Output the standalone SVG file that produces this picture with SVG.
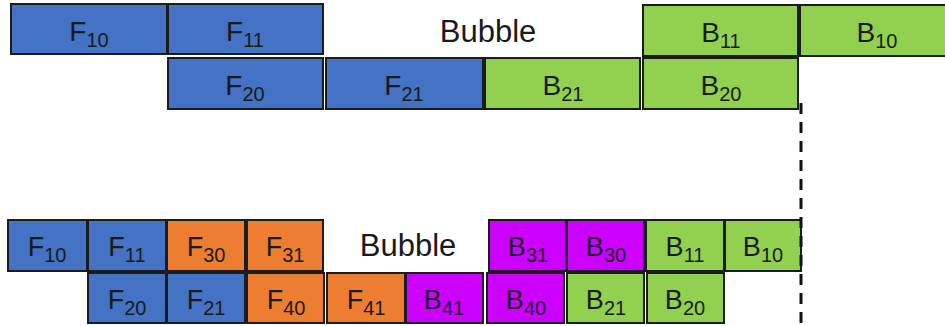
<svg xmlns="http://www.w3.org/2000/svg" width="945" height="326" viewBox="0 0 945 326">
<style>
rect{stroke:#1c1c1c;stroke-width:2}
.f{fill:#4472C4}.o{fill:#ED7D31}.g{fill:#92D050}.p{fill:#CC00FF}
text{font-family:"Liberation Sans",Arial,sans-serif;fill:#1a1a1a;text-anchor:middle;font-size:28px}
.b text{font-size:27px}
.s{font-size:20px}
text.bub{font-size:31px}
</style>
<rect width="945" height="326" fill="#fff" style="stroke:none"/>
<g id="top-F10"><rect class="f" x="11" y="4" width="156" height="50"/><text x="89" y="41">F<tspan class="s" dy="6">10</tspan></text></g>
<g id="top-F11"><rect class="f" x="168" y="4" width="155" height="50"/><text x="245" y="41">F<tspan class="s" dy="6">11</tspan></text></g>
<g id="top-bubble"><text class="bub" x="488" y="42">Bubble</text></g>
<g id="top-B11"><rect class="g" x="643" y="5" width="155" height="51"/><text x="721" y="42">B<tspan class="s" dy="6">11</tspan></text></g>
<g id="top-B10"><rect class="g" x="800" y="5" width="150" height="51"/><text x="877" y="42">B<tspan class="s" dy="6">10</tspan></text></g>
<g id="top-F20"><rect class="f" x="168" y="58" width="155" height="51"/><text x="245" y="95">F<tspan class="s" dy="6">20</tspan></text></g>
<g id="top-F21"><rect class="f" x="326" y="58" width="157" height="51"/><text x="404" y="95">F<tspan class="s" dy="6">21</tspan></text></g>
<g id="top-B21"><rect class="g" x="485" y="58" width="155" height="51"/><text x="563" y="95">B<tspan class="s" dy="6">21</tspan></text></g>
<g id="top-B20"><rect class="g" x="643" y="58" width="155" height="51"/><text x="721" y="95">B<tspan class="s" dy="6">20</tspan></text></g>

<g class="b">
<g id="bot-F10"><rect class="f" x="8" y="220" width="79" height="51"/><text x="47" y="256">F<tspan class="s" dy="6">10</tspan></text></g>
<g id="bot-F11"><rect class="f" x="88" y="220" width="78" height="51"/><text x="127" y="256">F<tspan class="s" dy="6">11</tspan></text></g>
<g id="bot-F30"><rect class="o" x="167" y="220" width="78" height="51"/><text x="206" y="256">F<tspan class="s" dy="6">30</tspan></text></g>
<g id="bot-F31"><rect class="o" x="247" y="220" width="76" height="51"/><text x="285" y="256">F<tspan class="s" dy="6">31</tspan></text></g>
<g id="bot-bubble"><text class="bub" x="408" y="256">Bubble</text></g>
<g id="bot-B31"><rect class="p" x="489" y="220" width="77" height="51"/><text x="528" y="256">B<tspan class="s" dy="6">31</tspan></text></g>
<g id="bot-B30"><rect class="p" x="567" y="220" width="77" height="51"/><text x="606" y="256">B<tspan class="s" dy="6">30</tspan></text></g>
<g id="bot-B11"><rect class="g" x="646" y="220" width="78" height="51"/><text x="685" y="256">B<tspan class="s" dy="6">11</tspan></text></g>
<g id="bot-B10"><rect class="g" x="725" y="220" width="76" height="51"/><text x="763" y="256">B<tspan class="s" dy="6">10</tspan></text></g>
<g id="bot-F20"><rect class="f" x="88" y="273" width="78" height="50"/><text x="127" y="309">F<tspan class="s" dy="6">20</tspan></text></g>
<g id="bot-F21"><rect class="f" x="167" y="273" width="78" height="50"/><text x="206" y="309">F<tspan class="s" dy="6">21</tspan></text></g>
<g id="bot-F40"><rect class="o" x="247" y="273" width="77" height="50"/><text x="286" y="309">F<tspan class="s" dy="6">40</tspan></text></g>
<g id="bot-F41"><rect class="o" x="327" y="273" width="78" height="50"/><text x="366" y="309">F<tspan class="s" dy="6">41</tspan></text></g>
<g id="bot-B41"><rect class="p" x="406" y="273" width="77" height="50"/><text x="444" y="309">B<tspan class="s" dy="6">41</tspan></text></g>
<g id="bot-B40"><rect class="p" x="487" y="273" width="77" height="50"/><text x="526" y="309">B<tspan class="s" dy="6">40</tspan></text></g>
<g id="bot-B21"><rect class="g" x="567" y="273" width="77" height="50"/><text x="606" y="309">B<tspan class="s" dy="6">21</tspan></text></g>
<g id="bot-B20"><rect class="g" x="647" y="273" width="77" height="50"/><text x="685" y="309">B<tspan class="s" dy="6">20</tspan></text></g>
</g>

<g id="connectors">
<line x1="801" y1="103" x2="801" y2="326" stroke="#111" stroke-width="3" stroke-dasharray="11 8"/>
</g>
</svg>
